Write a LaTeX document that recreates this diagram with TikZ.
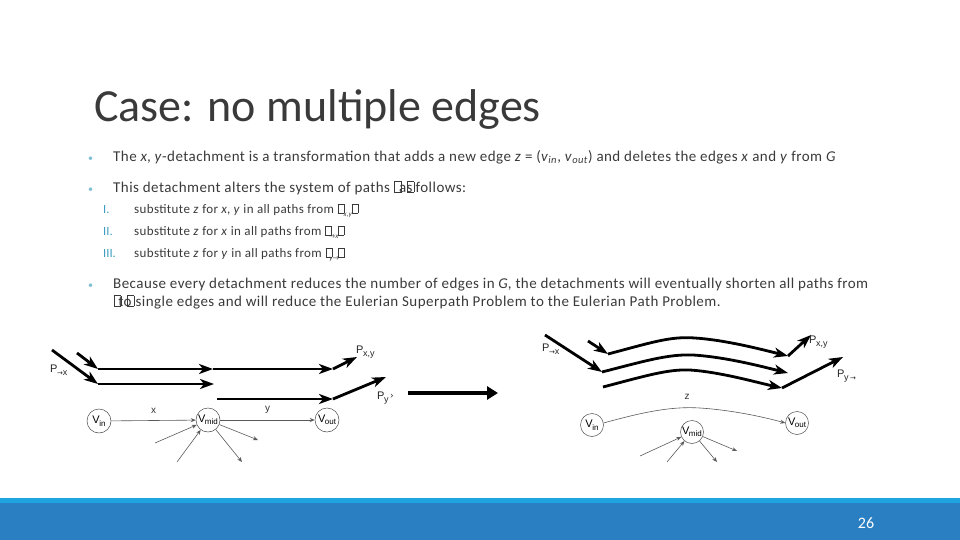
\documentclass[tikz,border=0pt]{standalone}
\usepackage{fontspec}
\setmainfont{Carlito}
\newfontfamily\helv{Liberation Sans}
\newfontfamily\dejavu{DejaVu Sans}
\newfontfamily\bodyfont[LetterSpace=3]{Carlito}
\usetikzlibrary{arrows.meta}
\definecolor{txt}{HTML}{3A3A3A}
\definecolor{bul}{HTML}{7DBFD6}
\definecolor{num}{HTML}{3D9DC0}
\definecolor{barlight}{HTML}{1EA5DF}
\definecolor{bardark}{HTML}{2A7FC2}
\newcommand{\tofu}{\kern0.3pt{\fboxsep0pt\fboxrule0.5pt\framebox[0.5em]{\rule{0pt}{0.68em}}}\kern0.3pt}
\newcommand{\vsub}[2]{#1\kern-0.5pt\raisebox{-2.5pt}{\fontsize{8}{8}\selectfont #2}}
\newcommand{\psub}[1]{P\kern-0.5pt\raisebox{-3pt}{\fontsize{9}{9}\selectfont #1}}
\newcommand{\rarr}{{\dejavu\fontsize{7}{7}\selectfont →}}
\begin{document}
\begin{tikzpicture}[x=1pt,y=-1pt,
  tpath/.style={line width=2.8pt, -{Stealth[length=14pt,width=10pt,inset=4pt]}},
  vert/.style={circle, draw=black!70, line width=0.5pt, minimum size=24pt, inner sep=0pt, font=\helv\fontsize{11}{11}\selectfont},
  tedge/.style={draw=black!65, line width=0.6pt, -{Stealth[length=5pt,width=4pt]}},
  elabel/.style={font=\helv\fontsize{10}{10}\selectfont, text=black!80},
  plabel/.style={font=\helv\fontsize{11}{11}\selectfont, text=black!85, inner sep=0pt, anchor=base west},
  body/.style={anchor=base west, inner sep=0pt, text=txt, font=\bodyfont\fontsize{15}{17}\selectfont},
  sub/.style={anchor=base west, inner sep=0pt, text=txt, font=\bodyfont\fontsize{13}{15}\selectfont},
  bullet/.style={anchor=base west, inner sep=0pt, text=bul, font=\fontsize{10}{10}\selectfont},
  numer/.style={anchor=base west, inner sep=0pt, text=num, font=\fontsize{12.5}{12.5}\selectfont}
]
\useasboundingbox (0,0) rectangle (960,540);
% bottom bar
\fill[barlight] (0,498) rectangle (960,504);
\fill[bardark] (0,503) rectangle (960,540);
\node[text=white, font=\fontsize{16}{16}\selectfont] (pg) at (866,523) {26};
% title
\node[anchor=base west, inner sep=0pt, text=txt, font=\fontsize{46}{46}\selectfont] (title) at (94,122) {Case: no multiple edges};
% bullets
\node[bullet] (b1) at (88,161) {•};
\node[body] (t1) at (113,161) {The \textit{x}, \textit{y}-detachment is a transformation that adds a new edge \textit{z} = (\textit{v}\textsubscript{\textit{in}}, \textit{v}\textsubscript{\textit{out}}) and deletes the edges \textit{x} and \textit{y} from \textit{G}};
\node[bullet] (b2) at (88,192) {•};
\node[body] (t2) at (113,192) {This detachment alters the system of paths \tofu\kern-3pt as\kern-6pt\tofu\kern1pt follows:};
\node[numer] (n1) at (103,213) {I.};
\node[sub] (s1) at (134,213) {substitute \textit{z} for \textit{x}, \textit{y} in all paths from \tofu\kern-1pt\raisebox{-3pt}{\fontsize{7}{7}\selectfont\textit{x,y}}\kern-1pt\tofu};
\node[numer] (n2) at (103,235) {II.};
\node[sub] (s2) at (134,235) {substitute \textit{z} for \textit{x} in all paths from \tofu\kern-3pt\raisebox{-3pt}{\fontsize{7}{7}\selectfont →\textit{x}}\kern-1pt\tofu};
\node[numer] (n3) at (103,257) {III.};
\node[sub] (s3) at (134,257) {substitute \textit{z} for \textit{y} in all paths from \tofu\kern-3pt\raisebox{-3pt}{\fontsize{7}{7}\selectfont\textit{y}→}\kern-1pt\tofu};
\node[bullet] (b3) at (88,288) {•};
\node[body] (t3) at (113,288) {Because every detachment reduces the number of edges in \textit{G}, the detachments will eventually shorten all paths from};
\node[body] (t3b) at (113,306) {\tofu\kern-3pt to\kern-5pt\tofu\kern1pt single edges and will reduce the Eulerian Superpath Problem to the Eulerian Path Problem.};

% ---------------- left diagram ----------------
\coordinate (L1) at (52,350);
\coordinate (L2) at (98,384);
\coordinate (L3) at (214,384);
\coordinate (S1) at (77,353);
\coordinate (S2) at (98,369);
\coordinate (S3) at (213,369);
\coordinate (S4) at (333,369);
\coordinate (S5) at (357,357);
\coordinate (Y1) at (217,399);
\coordinate (Y2) at (333,399);
\coordinate (Y3) at (386,377);
\draw[tpath] (L1) -- (L2);
\draw[tpath] (L2) -- (L3);
\draw[tpath] (S1) -- (S2);
\draw[tpath] (S2) -- (S3);
\draw[tpath] (S3) -- (S4);
\draw[tpath] (S4) -- (S5);
\draw[tpath] (Y1) -- (Y2);
\draw[tpath] (Y2) -- (Y3);
\node[plabel] (lpx) at (50,372) {\psub{\rarr x}};
\node[plabel] (lpxy) at (356,353) {\psub{x,y}};
\node[plabel] (lpy) at (377,399) {\psub{y}\,\raisebox{1pt}{\fontsize{9}{9}\selectfont ›}};

\node[vert] (lvin) at (99,421) {\vsub{V}{in}};
\node[vert] (lvmid) at (208,420) {\vsub{V}{mid}};
\node[vert] (lvout) at (327,420) {\vsub{V}{out}};
\draw[tedge] (lvin) -- node[elabel, above=3pt] (lx) {x} (lvmid);
\draw[tedge] (lvmid) -- node[elabel, above=3pt] (ly) {y} (lvout);
\coordinate (la) at (155,443);
\coordinate (lb) at (177,462);
\coordinate (lc) at (258,440);
\coordinate (ld) at (242,462);
\draw[tedge] (la) -- (lvmid);
\draw[tedge] (lb) -- (lvmid);
\draw[tedge] (lvmid) -- (lc);
\draw[tedge] (lvmid) -- (ld);

% middle arrow
\coordinate (m1) at (408,393);
\coordinate (m2) at (498,393);
\draw[line width=4pt, -{Triangle[length=11pt,width=13pt]}] (m1) -- (m2);

% ---------------- right diagram ----------------
\coordinate (R1) at (545,335);
\coordinate (R2) at (602,372);
\coordinate (R3) at (788,373);
\coordinate (Q1) at (588,341);
\coordinate (Q2) at (608,354);
\coordinate (Q3) at (788,356);
\coordinate (Q4) at (811,335);
\coordinate (W1) at (603,387);
\coordinate (W2) at (782,388);
\coordinate (W3) at (843,357);
\draw[tpath] (R1) -- (R2);
\draw[tpath] (Q1) -- (Q2);
\draw[tpath] (Q2) .. controls (650,343) and (670,336) .. (695,338) .. controls (725,340) and (760,349) .. (Q3);
\draw[tpath] (Q3) -- (Q4);
\draw[tpath] (R2) .. controls (645,361) and (668,354) .. (693,355) .. controls (725,357) and (760,366) .. (R3);
\draw[tpath] (W1) .. controls (645,376) and (668,369) .. (690,370) .. controls (720,372) and (755,382) .. (W2);
\draw[tpath] (W2) -- (W3);
\node[plabel] (rpx) at (542,351) {\psub{\rarr x}};
\node[plabel] (rpxy) at (809,343) {\psub{x,y}};
\node[plabel] (rpy) at (837,377) {\psub{y\,\rarr}};

\node[vert, minimum size=23pt] (rvin) at (592,425) {\vsub{V}{in}};
\node[vert, minimum size=23pt] (rvmid) at (692,432) {\vsub{V}{mid}};
\node[vert, minimum size=23pt] (rvout) at (797,423) {\vsub{V}{out}};
\draw[tedge] (rvin.10) .. controls (640,413) and (670,406) .. (700,408) .. controls (730,410) and (760,416) .. (rvout.west);
\node[elabel] (rz) at (687,397) {z};
\coordinate (ra) at (640,456);
\coordinate (rb) at (667,462);
\coordinate (rc) at (737,451);
\coordinate (rd) at (717,462);
\draw[tedge] (ra) -- (rvmid);
\draw[tedge] (rb) -- (rvmid);
\draw[tedge] (rvmid) -- (rc);
\draw[tedge] (rvmid) -- (rd);
\end{tikzpicture}
\end{document}
